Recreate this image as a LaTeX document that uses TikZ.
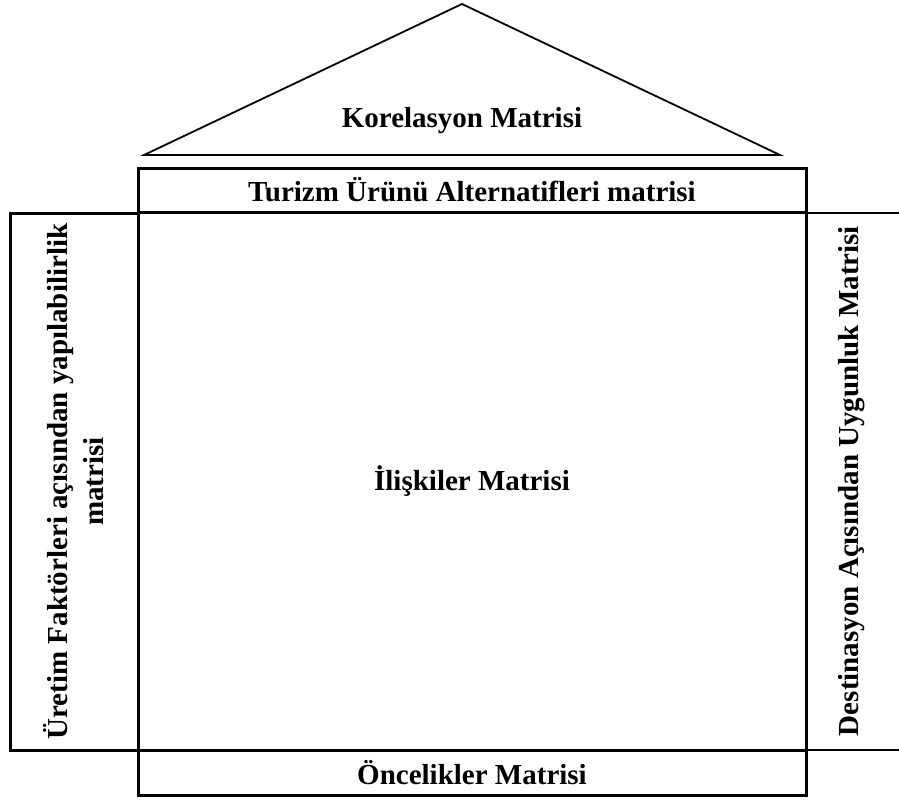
\documentclass[tikz,border=0pt]{standalone}
\usepackage{fontspec}
\setmainfont{Liberation Serif}
\usepackage{tikz}
\usetikzlibrary{positioning, calc}

\tikzset{
    thickbox/.style={line width=3pt},
    thinbox/.style={line width=1.5pt},
    label/.style={font=\fontsize{29}{36}\selectfont\bfseries, align=center}
}

\begin{document}
\begin{tikzpicture}[x=1pt, y=-1pt]
    \useasboundingbox (0,0) rectangle (899,800);
    % roof
    \draw[line width=1.8pt, line join=miter] (144,155) -- (462,4) -- (780,155) -- cycle;
    \node[label] (korelasyon) at (462,121) {Korelasyon Matrisi};
    % boxes
    \draw[thickbox] (138,168) rectangle (806,212) node[midway, label] (alternatif) {Turizm Ürünü Alternatifleri matrisi};
    \draw[thickbox] (138,212) rectangle (806,750) node[midway, label] (iliski) {İlişkiler Matrisi};
    \draw[thickbox] (138,750) rectangle (806,795) node[midway, label] (oncelik) {Öncelikler Matrisi};
    \draw[thickbox] (10,213) rectangle (138,750) node[midway, label, rotate=90] (uretim) {Üretim Faktörleri açısından yapılabilirlik\\matrisi};
    \draw[thinbox] (899,213) -- (806,213) -- (806,750) -- (899,750);
    \node[label, rotate=90] (destinasyon) at (852,481) {Destinasyon Açısından Uygunluk Matrisi};
\end{tikzpicture}
\end{document}
